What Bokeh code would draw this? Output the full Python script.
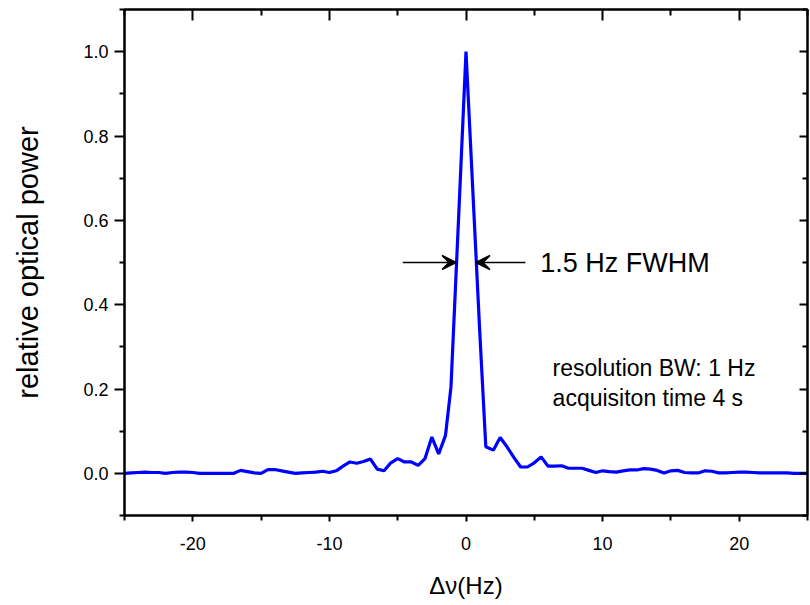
from bokeh.plotting import figure
from bokeh.models import (LinearAxis, Arrow, VeeHead, FixedTicker, Range1d,
                          PrintfTickFormatter, CustomJSTickFormatter)
from bokeh.core.properties import value
from bokeh.embed import file_html
from bokeh.resources import INLINE

# detuning (Hz)
freq = [-25.0, -24.5, -24.0, -23.5, -23.0, -22.5, -22.0, -21.5, -21.0, -20.5,
        -20.0, -19.5, -19.0, -18.5, -18.0, -17.5, -17.0, -16.5, -16.0, -15.5,
        -15.0, -14.5, -14.0, -13.5, -13.0, -12.5, -12.0, -11.5, -11.0, -10.5,
        -10.0, -9.5, -9.0, -8.5, -8.0, -7.5, -7.0, -6.5, -6.0, -5.5,
        -5.0, -4.5, -4.0, -3.5, -3.0, -2.5, -2.0, -1.5, -1.1, -0.55,
        0.0, 0.5, 1.0, 1.45, 2.0, 2.5, 3.0, 3.5, 4.0, 4.5,
        5.0, 5.5, 6.0, 6.5, 7.0, 7.5, 8.0, 8.5, 9.0, 9.5,
        10.0, 10.5, 11.0, 11.5, 12.0, 12.5, 13.0, 13.5, 14.0, 14.5,
        15.0, 15.5, 16.0, 16.5, 17.0, 17.5, 18.0, 18.5, 19.0, 19.5,
        20.0, 20.5, 21.0, 21.5, 22.0, 22.5, 23.0, 23.5, 24.0, 24.5, 25.0]

# relative optical power
power = [0.000, 0.001, 0.002, 0.003, 0.002, 0.002, 0.000, 0.002, 0.003, 0.003,
         0.002, 0.000, 0.000, 0.000, 0.000, 0.000, 0.000, 0.007, 0.004, 0.001,
         0.000, 0.009, 0.009, 0.006, 0.003, 0.000, 0.001, 0.002, 0.003, 0.005,
         0.002, 0.006, 0.017, 0.027, 0.024, 0.028, 0.034, 0.010, 0.006, 0.025,
         0.035, 0.027, 0.027, 0.019, 0.035, 0.086, 0.046, 0.090, 0.205, 0.600,
         1.000, 0.670, 0.340, 0.063, 0.055, 0.085, 0.063, 0.038, 0.015, 0.015,
         0.025, 0.039, 0.017, 0.017, 0.018, 0.012, 0.012, 0.012, 0.007, 0.002,
         0.006, 0.004, 0.003, 0.006, 0.008, 0.008, 0.011, 0.010, 0.007, 0.001,
         0.006, 0.007, 0.002, 0.001, 0.001, 0.006, 0.005, 0.001, 0.001, 0.002,
         0.003, 0.003, 0.002, 0.001, 0.001, 0.001, 0.001, 0.001, 0.000, 0.000, 0.000]

x_ticks = [-20, -10, 0, 10, 20]
x_minor = [-25, -15, -5, 5, 15, 25]
y_ticks = [0.0, 0.2, 0.4, 0.6, 0.8, 1.0]
y_minor = [-0.1, 0.1, 0.3, 0.5, 0.7, 0.9, 1.1]

# annotation: FWHM arrows
fwhm_y = 0.5
arrow_left = (-4.63, -0.73)
arrow_right = (4.35, 0.73)
fwhm_label = "1.5 Hz FWHM"
note_lines = ["resolution BW: 1 Hz", "acquisiton time 4 s"]

FONT = "Liberation Sans"

p = figure(width=810, height=605, output_backend="svg", toolbar_location=None,
           x_range=Range1d(-25, 25), y_range=Range1d(-0.1, 1.1),
           min_border_left=124, min_border_right=3, min_border_top=9,
           min_border_bottom=90, y_axis_location=None, x_axis_location=None)
p.grid.visible = False
p.outline_line_color = "black"
p.outline_line_width = 2
p.background_fill_color = "white"
p.border_fill_color = "white"

def style(ax, tin, tout, minin, minout):
    ax.axis_line_color = "black"
    ax.axis_line_width = 2
    ax.major_tick_line_color = "black"
    ax.major_tick_line_width = 2
    ax.minor_tick_line_color = "black"
    ax.minor_tick_line_width = 2
    ax.major_tick_in = tin
    ax.major_tick_out = tout
    ax.minor_tick_in = minin
    ax.minor_tick_out = minout
    ax.major_label_text_font = FONT
    ax.major_label_text_font_size = "18px"
    ax.major_label_text_color = "black"
    ax.axis_label_text_font = FONT
    ax.axis_label_text_font_style = "normal"
    ax.axis_label_text_color = "black"

xt = FixedTicker(ticks=x_ticks, minor_ticks=x_minor)
yt = FixedTicker(ticks=y_ticks, minor_ticks=y_minor)
blank = CustomJSTickFormatter(code="return ''")

bottom = LinearAxis(ticker=xt, axis_label="Δν(Hz)",
                    formatter=PrintfTickFormatter(format="%d"))
style(bottom, 0, 6, 0, 5)
bottom.major_label_standoff = 15
bottom.axis_label_text_font_size = "24px"
bottom.axis_label_standoff = 19
p.add_layout(bottom, "below")

left = LinearAxis(ticker=yt, axis_label="relative optical power",
                  formatter=PrintfTickFormatter(format="%.1f"))
style(left, 0, 10, 0, 5)
left.major_label_standoff = 6
left.axis_label_text_font_size = "29px"
left.axis_label_standoff = 36
p.add_layout(left, "left")

top = LinearAxis(ticker=xt, formatter=blank)
style(top, 11, 0, 6, 0)
top.major_label_standoff = 0
p.add_layout(top, "above")

right = LinearAxis(ticker=yt, formatter=blank)
style(right, 8, 0, 5, 0)
right.major_label_standoff = 0
p.add_layout(right, "right")

p.line(freq, power, line_color="#0000ff", line_width=3.2)

for xs, xe in (arrow_left, arrow_right):
    p.add_layout(Arrow(x_start=xs, y_start=fwhm_y, x_end=xe, y_end=fwhm_y,
                       line_color="black", line_width=1.5,
                       end=VeeHead(size=14, line_color="black", line_width=1.5,
                                   fill_color="black")))

p.text(x=[5.43], y=[fwhm_y], text=[fwhm_label], text_font=value(FONT),
       text_font_size="27px", text_baseline="middle", text_align="left",
       text_color="black")
p.text(x=[6.34, 6.34], y=[0.25, 0.178], text=note_lines, text_font=value(FONT),
       text_font_size="23px", text_baseline="middle", text_align="left",
       text_color="black")

open("out.html", "w").write(file_html(p, INLINE))
